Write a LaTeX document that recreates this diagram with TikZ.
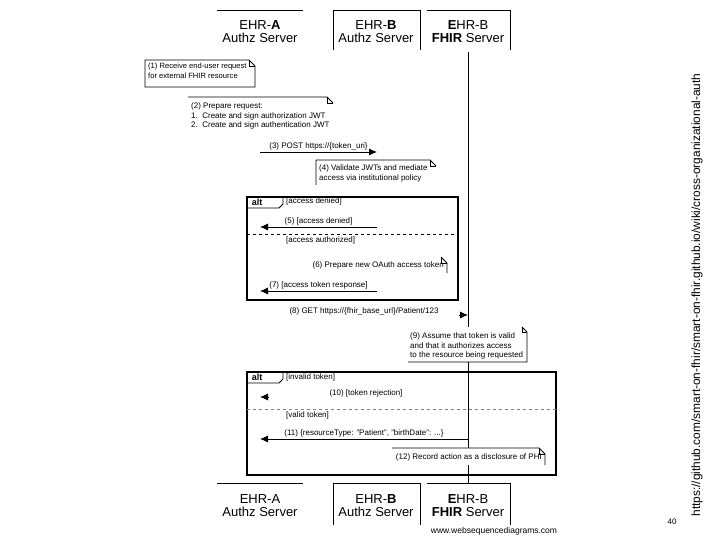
\documentclass[tikz,border=0pt]{standalone}
\usepackage{fontspec}
\setmainfont{Liberation Sans}
\usetikzlibrary{arrows.meta}

\begin{document}
\begin{tikzpicture}[x=1pt,y=-1pt,
  actor/.style={align=center,inner sep=0pt,font=\fontsize{13}{13}\selectfont},
  notetext/.style={align=left,inner sep=0pt,font=\fontsize{8}{9.5}\selectfont},
  msglabel/.style={inner sep=1.5pt,font=\fontsize{8}{9}\selectfont},
  guard/.style={anchor=west,inner sep=0pt,font=\fontsize{8}{9}\selectfont},
  msg/.style={line width=0.8pt,-{Latex[length=8pt,width=7pt]}},
  box/.style={line width=0.8pt},
  altframe/.style={line width=1.3pt}]
\useasboundingbox (0,0) rectangle (720,540);

% participants, top
\draw [box] (217,10) -- (303,10);
\draw [box] (333,50) -- (333,10) -- (420,10) -- (420,50);
\draw [box] (427,10) -- (510,10) -- (510,50);
\node [actor] (ehraTop) at (260,32) {EHR-\textbf{A}\\Authz Server};
\node [actor] (ehrbTop) at (376,32) {EHR-\textbf{B}\\Authz Server};
\node [actor] (fhirTop) at (468,32) {\textbf{E}HR-B\\\textbf{FHIR} Server};

% participants, bottom
\draw [box] (217,483) -- (303,483);
\draw [box] (333,525) -- (333,483) -- (420,483) -- (420,525);
\draw [box] (427,483) -- (510,483) -- (510,525);
\node [actor] (ehraBot) at (260,506) {EHR-A\\Authz Server};
\node [actor] (ehrbBot) at (376,506) {EHR-\textbf{B}\\Authz Server};
\node [actor] (fhirBot) at (468,506) {\textbf{E}HR-B\\\textbf{FHIR} Server};

% lifeline
\coordinate (fhirStart) at (468,52);
\coordinate (fhirEnd) at (468,483);
\draw [box] (fhirStart) -- (fhirEnd);

% (1)
\draw [box] (145,60) -- (249,60) -- (255,66) -- (255,87) -- (145,87) -- cycle;
\draw [box] (249,60) -- (249,66) -- (255,66);
\node [notetext,anchor=north west,font=\fontsize{7.6}{10}\selectfont] (note1) at (148,63) {(1) Receive end-user request\\for external FHIR resource};

% (2)
\draw [box] (188,97) -- (327,97) -- (333,103);
\draw [box] (327,97) -- (327,103) -- (333,103);
\node [notetext,anchor=north west] (note2) at (191,103) {(2) Prepare request:\\1.\ \ Create and sign authorization JWT\\2.\ \ Create and sign authentication JWT};

% (3)
\coordinate (a3) at (260,152);
\coordinate (b3) at (377,152);
\draw [msg] (a3) -- (b3) node [msglabel,midway,above] {(3) POST https://\{token\_uri\}};

% (4)
\draw [box] (316,185) -- (316,160) -- (430,160) -- (436,166);
\draw [box] (430,160) -- (430,166) -- (436,166);
\node [notetext,anchor=north west] (note4) at (319,165) {(4) Validate JWTs and mediate\\access via institutional policy};

% first alt
\draw [altframe] (247,197) rectangle (458,300);
\draw [box] (283,197) -- (283,204) -- (279,208) -- (247,208);
\node [font=\bfseries\fontsize{9}{9}\selectfont] (alt1) at (257,202) {alt};
\node [guard] (g1) at (286,201) {[access denied]};
\coordinate (b5) at (377,227);
\coordinate (a5) at (260,227);
\draw [msg] (b5) -- (a5) node [msglabel,midway,above] {(5) [access denied]};
\draw [box,dashed] (247,234) -- (458,234);
\node [guard] (g2) at (286,240) {[access authorized]};
\draw [box] (441,257) -- (447,263) -- (447,273);
\draw [box] (441,257) -- (441,263) -- (447,263);
\node [notetext,anchor=north east] (note6) at (444,262) {(6) Prepare new OAuth access token};
\coordinate (b7) at (377,291);
\coordinate (a7) at (260,291);
\draw [msg] (b7) -- (a7) node [msglabel,midway,above] {(7) [access token response]};

% (8)
\coordinate (h8) at (459,315);
\coordinate (f8) at (468,315);
\draw [msg] (h8) -- (f8);
\node [msglabel] (m8) at (364,311) {(8) GET https://\{fhir\_base\_url\}/Patient/123};

% (9)
\fill [white] (408,327) rectangle (527,362);
\draw [box] (522,327) -- (527,332) -- (527,362) -- (408,362);
\draw [box] (522,327) -- (522,332) -- (527,332);
\node [notetext,anchor=north west] (note9) at (410,333) {(9) Assume that token is valid\\and that it authorizes access\\to the resource being requested};

% second alt
\draw [altframe] (247,372) rectangle (556,475);
\draw [box] (283,372) -- (283,379) -- (279,383) -- (247,383);
\node [font=\bfseries\fontsize{9}{9}\selectfont] (alt2) at (257,377) {alt};
\node [guard] (g3) at (286,377) {[invalid token]};
\coordinate (h10) at (269,397);
\coordinate (a10) at (260,397);
\draw [msg] (h10) -- (a10);
\node [msglabel] (m10) at (366,393) {(10) [token rejection]};
\draw [box,dashed,gray] (247,409) -- (556,409);
\node [guard] (g4) at (286,415) {[valid token]};
\coordinate (f11) at (468,439);
\coordinate (a11) at (260,439);
\draw [msg] (f11) -- (a11) node [msglabel,midway,above] {(11) \{resourceType: "Patient", "birthDate": ...\}};

% (12)
\fill [white] (392,448) rectangle (545,465);
\draw [box] (392,448) -- (539,448) -- (545,454) -- (545,465);
\draw [box] (539,448) -- (539,454) -- (545,454);
\node [notetext,anchor=north east] (note12) at (542,454) {(12) Record action as a disclosure of PHI};

% slide texts
\node [font=\fontsize{8.5}{8.5}\selectfont] (wsd) at (494,531) {www.websequencediagrams.com};
\node [font=\fontsize{8}{8}\selectfont] (pagenum) at (672,522) {40};
\node [rotate=90,font=\fontsize{11.9}{11.9}\selectfont] (wikiurl) at (697,295) {https://github.com/smart-on-fhir/smart-on-fhir.github.io/wiki/cross-organizational-auth};
\end{tikzpicture}
\end{document}
